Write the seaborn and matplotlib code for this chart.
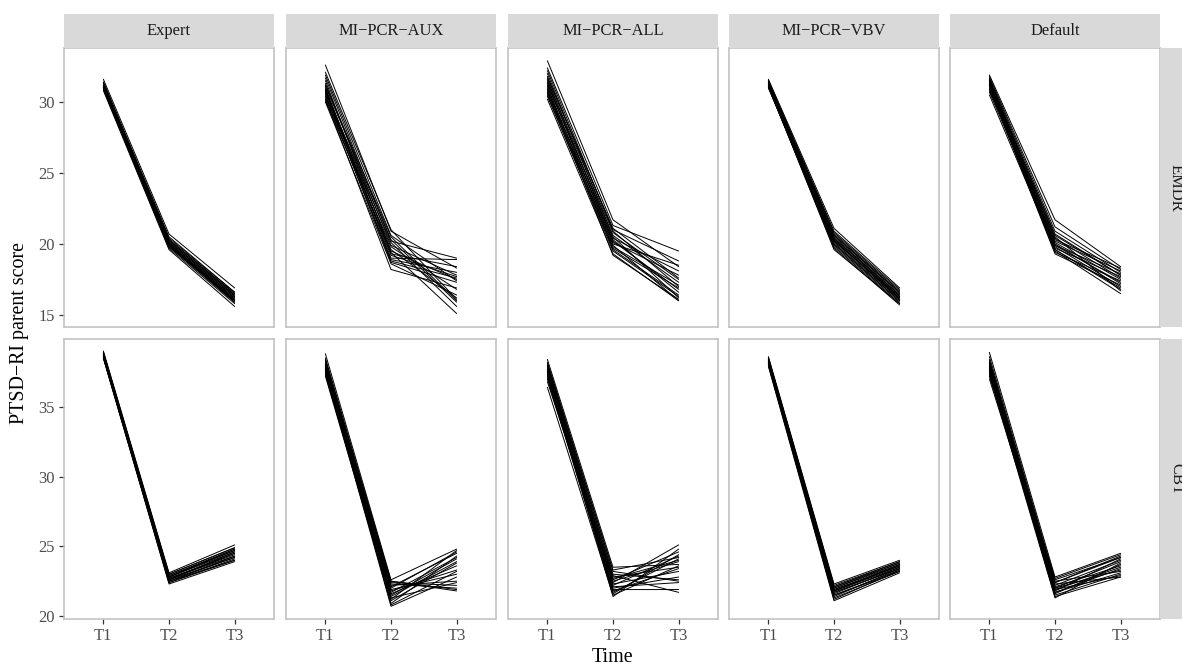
import matplotlib.pyplot as plt
import pandas as pd
import seaborn as sns
from matplotlib.patches import Rectangle

TIMES = ["T1", "T2", "T3"]
METHODS = ["Expert", "MI−PCR−AUX", "MI−PCR−ALL", "MI−PCR−VBV", "Default"]
TREATMENTS = ["EMDR", "CBT"]

# one list per time point, one value per imputed trajectory
EMDR_EXPERT = [
    [31.6, 31.4, 31.3, 31.2, 31.2, 31.1, 31.1, 31.0, 31.0, 31.0, 30.9, 30.9, 31.3, 31.1, 31.2, 30.8, 31.0, 31.4, 31.1, 31.2],
    [20.7, 20.5, 20.3, 20.2, 20.1, 20.0, 20.0, 19.9, 19.9, 19.8, 19.8, 19.7, 20.4, 20.0, 20.1, 19.6, 19.9, 20.2, 20.0, 20.3],
    [16.9, 16.6, 16.5, 16.4, 16.3, 16.2, 16.2, 16.1, 16.0, 16.0, 15.9, 15.8, 16.6, 16.1, 16.3, 15.6, 15.9, 16.4, 16.0, 16.5],
]
EMDR_AUX = [
    [32.6, 32.1, 31.9, 31.7, 31.5, 31.3, 31.2, 31.0, 30.9, 30.8, 30.7, 30.6, 30.5, 30.4, 30.3, 30.2, 30.1, 30.0, 31.1, 30.8],
    [20.9, 21.0, 20.6, 20.2, 19.4, 19.9, 20.5, 19.0, 19.6, 18.8, 20.1, 19.3, 18.7, 19.8, 18.9, 18.2, 19.5, 18.6, 20.3, 19.2],
    [18.3, 16.1, 17.4, 19.0, 15.1, 17.8, 16.0, 18.9, 16.2, 17.6, 15.6, 18.4, 17.3, 16.8, 18.0, 16.9, 17.5, 16.4, 15.9, 17.7],
]
EMDR_ALL = [
    [32.9, 32.4, 32.2, 32.0, 31.8, 31.6, 31.5, 31.4, 31.3, 31.2, 31.1, 31.0, 30.9, 30.8, 30.7, 30.6, 30.5, 30.4, 30.2, 31.7],
    [21.7, 21.3, 20.9, 20.5, 21.0, 20.2, 20.8, 19.9, 20.4, 20.6, 19.6, 20.1, 19.2, 20.3, 19.8, 20.0, 19.5, 19.7, 19.3, 21.1],
    [18.4, 19.5, 17.0, 16.2, 18.8, 16.8, 17.5, 16.0, 18.1, 17.3, 16.4, 17.8, 16.1, 16.6, 17.1, 18.5, 16.3, 16.9, 16.0, 17.6],
]
EMDR_VBV = [
    [31.6, 31.5, 31.5, 31.4, 31.4, 31.3, 31.3, 31.3, 31.2, 31.2, 31.2, 31.1, 31.1, 31.1, 31.0, 31.0, 31.4, 31.2, 31.3, 31.5],
    [21.1, 20.9, 20.7, 20.6, 20.5, 20.4, 20.3, 20.2, 20.1, 20.0, 19.9, 19.8, 19.7, 19.6, 20.2, 20.0, 20.8, 20.3, 20.4, 20.6],
    [16.9, 16.8, 16.6, 16.5, 16.4, 16.3, 16.2, 16.2, 16.1, 16.0, 15.9, 15.8, 15.7, 15.8, 16.3, 16.0, 16.7, 16.1, 16.4, 16.6],
]
EMDR_DEFAULT = [
    [31.9, 31.8, 31.7, 31.6, 31.6, 31.5, 31.5, 31.4, 31.4, 31.3, 31.3, 31.2, 31.2, 31.1, 31.0, 30.9, 30.8, 30.7, 30.5, 31.5],
    [21.7, 21.2, 20.9, 20.6, 20.4, 20.3, 20.1, 20.0, 19.9, 19.8, 19.7, 19.6, 19.5, 19.4, 19.3, 20.2, 20.5, 19.9, 19.6, 20.7],
    [18.4, 18.2, 18.0, 17.8, 17.6, 18.3, 17.5, 17.2, 17.9, 17.0, 17.7, 16.8, 16.5, 17.4, 17.1, 18.1, 16.7, 17.3, 16.9, 17.8],
]
CBT_EXPERT = [
    [39.0, 38.9, 38.9, 38.8, 38.8, 38.8, 38.7, 38.7, 38.7, 38.6, 38.6, 38.6, 38.5, 38.5, 38.7, 38.8, 38.6, 38.9, 38.7, 38.5],
    [23.1, 23.0, 22.9, 22.9, 22.8, 22.8, 22.7, 22.7, 22.6, 22.6, 22.5, 22.5, 22.4, 22.3, 22.6, 22.8, 22.5, 23.0, 22.7, 22.4],
    [25.1, 24.9, 24.8, 24.7, 24.8, 24.6, 24.5, 24.4, 24.6, 24.2, 24.3, 24.0, 24.1, 23.9, 24.5, 24.7, 24.2, 24.9, 24.3, 24.0],
]
CBT_AUX = [
    [38.8, 38.5, 38.3, 38.2, 38.1, 38.0, 37.9, 37.9, 37.8, 37.7, 37.7, 37.6, 37.5, 37.5, 37.4, 37.3, 37.2, 38.4, 37.8, 38.0],
    [22.6, 22.4, 22.1, 21.8, 22.5, 21.5, 22.2, 21.2, 21.9, 21.4, 22.3, 20.9, 21.6, 20.7, 22.0, 21.3, 21.1, 22.5, 21.7, 20.8],
    [24.8, 22.2, 24.5, 23.3, 21.8, 24.1, 22.5, 24.7, 23.0, 23.9, 22.0, 24.3, 23.6, 22.8, 24.6, 22.4, 23.8, 21.9, 24.2, 23.2],
]
CBT_ALL = [
    [38.4, 38.2, 38.1, 38.0, 37.9, 37.8, 37.7, 37.7, 37.6, 37.5, 37.5, 37.4, 37.3, 37.2, 37.1, 37.0, 36.8, 36.4, 38.0, 37.6],
    [23.5, 23.2, 23.3, 22.4, 22.9, 22.6, 21.8, 22.1, 22.7, 21.6, 22.3, 21.9, 21.4, 22.8, 22.0, 21.7, 22.5, 21.5, 23.0, 22.2],
    [23.7, 22.5, 24.2, 25.1, 21.7, 24.6, 23.4, 22.4, 24.0, 24.4, 23.2, 21.9, 24.8, 23.5, 22.8, 24.1, 23.9, 23.6, 22.6, 24.3],
]
CBT_VBV = [
    [38.6, 38.5, 38.5, 38.4, 38.4, 38.3, 38.3, 38.2, 38.2, 38.1, 38.1, 38.0, 38.0, 37.9, 38.3, 38.4, 38.2, 38.5, 38.1, 38.3],
    [22.3, 22.2, 22.1, 22.0, 21.9, 21.8, 21.8, 21.7, 21.6, 21.5, 21.4, 21.3, 21.2, 21.1, 21.9, 22.0, 21.7, 22.1, 21.5, 21.8],
    [24.0, 23.9, 23.8, 23.7, 23.6, 23.7, 23.5, 23.4, 23.5, 23.3, 23.4, 23.2, 23.3, 23.1, 23.6, 23.8, 23.4, 23.9, 23.2, 23.6],
]
CBT_DEFAULT = [
    [38.9, 38.6, 38.4, 38.3, 38.2, 38.1, 38.0, 37.9, 37.9, 37.8, 37.7, 37.6, 37.5, 37.4, 37.3, 37.2, 37.0, 38.1, 37.8, 37.6],
    [22.8, 22.6, 22.5, 22.4, 22.3, 22.2, 22.1, 22.0, 21.9, 21.8, 21.7, 21.6, 21.5, 21.4, 21.3, 22.7, 22.0, 21.9, 22.4, 21.7],
    [24.5, 24.2, 23.2, 24.3, 22.8, 24.0, 23.6, 23.9, 22.9, 24.1, 23.4, 23.7, 23.0, 22.8, 23.8, 24.4, 23.3, 23.5, 24.2, 23.1],
]

PANELS = {
    "EMDR": [EMDR_EXPERT, EMDR_AUX, EMDR_ALL, EMDR_VBV, EMDR_DEFAULT],
    "CBT": [CBT_EXPERT, CBT_AUX, CBT_ALL, CBT_VBV, CBT_DEFAULT],
}
Y_TICKS = {"EMDR": [15, 20, 25, 30], "CBT": [20, 25, 30, 35]}
Y_LIMS = {"EMDR": (14.15, 33.8), "CBT": (19.79, 39.86)}

W, H = 1182, 666
COL_LEFT = [64, 286, 508, 729, 950]
COL_W = 210
ROW_TB = [(48, 327), (339, 619)]
STRIP_TOP = 14
BORDER = "#bfbfbf"
STRIP_FILL = "#d9d9d9"


def box(left, top, right, bottom):
    return [left / W, 1 - bottom / H, (right - left) / W, (bottom - top) / H]


def long_table() -> pd.DataFrame:
    rows = []
    for treatment in TREATMENTS:
        for method, panel in zip(METHODS, PANELS[treatment]):
            for t, values in zip(TIMES, panel):
                for imp, v in enumerate(values):
                    rows.append(
                        {"treatment": treatment, "method": method, "imp": imp, "time": t, "score": v}
                    )
    return pd.DataFrame(rows)


def main() -> None:
    sns.set_theme(style="white")
    plt.rcParams["font.family"] = ["Liberation Serif", "DejaVu Serif"]

    data = long_table()
    fig = plt.figure(figsize=(W / 100, H / 100), dpi=100)

    for r, treatment in enumerate(TREATMENTS):
        top, bottom = ROW_TB[r]
        for c, method in enumerate(METHODS):
            left = COL_LEFT[c]
            ax = fig.add_axes(box(left, top, left + COL_W, bottom))
            sub = data[(data.treatment == treatment) & (data.method == method)]
            sns.lineplot(
                data=sub, x="time", y="score", units="imp", estimator=None,
                color="black", linewidth=0.7, sort=False, ax=ax,
            )
            ax.set_xlim(-0.6, 2.6)
            ax.set_ylim(*Y_LIMS[treatment])
            ax.set_xlabel("")
            ax.set_ylabel("")
            ax.set_facecolor("white")
            for spine in ax.spines.values():
                spine.set_visible(True)
                spine.set_color(BORDER)
                spine.set_linewidth(1.1)
            ax.tick_params(
                direction="out", length=3.6, width=0.9, color="#333333",
                labelsize=11.9, labelcolor="#4d4d4d", pad=3,
            )
            ax.set_yticks(Y_TICKS[treatment])
            if c == 0:
                ax.tick_params(axis="y", left=True)
            else:
                ax.tick_params(axis="y", left=False, labelleft=False)
            if r == len(TREATMENTS) - 1:
                ax.tick_params(axis="x", bottom=True)
            else:
                ax.tick_params(axis="x", bottom=False, labelbottom=False)
            ax.grid(False)

            if r == 0:
                sax = fig.add_axes(box(left, STRIP_TOP, left + COL_W, top))
                sax.set_axis_off()
                sax.add_patch(Rectangle((0, 0), 1, 1, transform=sax.transAxes,
                                        facecolor=STRIP_FILL, edgecolor="none"))
                sax.text(0.5, 0.5, method, ha="center", va="center",
                         fontsize=11.9, color="#1a1a1a", transform=sax.transAxes)

        rax = fig.add_axes(box(1160, top, 1194, bottom))
        rax.set_axis_off()
        rax.add_patch(Rectangle((0, 0), 1, 1, transform=rax.transAxes,
                                facecolor=STRIP_FILL, edgecolor="none"))
        fig.text(1176 / W, 1 - (top + bottom) / 2 / H, treatment, rotation=-90,
                 ha="center", va="center", fontsize=11.9, color="#1a1a1a")

    fig.text(612 / W, 1 - 657 / H, "Time", ha="center", va="center", fontsize=14.4, color="black")
    fig.text(20 / W, 1 - 333 / H, "PTSD−RI parent score", rotation=90,
             ha="center", va="center", fontsize=14.4, color="black")

    fig.savefig("out.png", dpi=100)
    plt.close(fig)


if __name__ == "__main__":
    main()
